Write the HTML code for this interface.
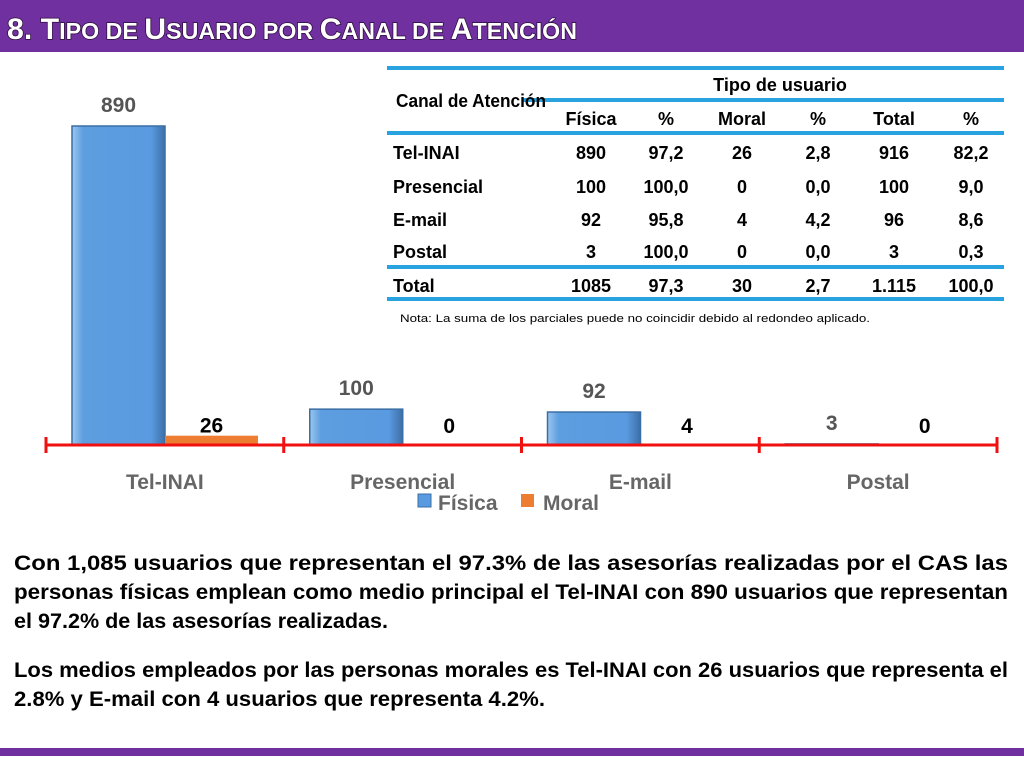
<!DOCTYPE html>
<html><head><meta charset="utf-8"><style>
body{margin:0;width:1024px;height:768px;overflow:hidden;background:#fff;font-family:"Liberation Sans",sans-serif;}
svg{position:absolute;left:0;top:0}
</style></head><body>
<svg id="s" width="1024" height="768" viewBox="0 0 1024 768">
<defs>
<linearGradient id="bg" x1="0" x2="1" y1="0" y2="0">
<stop offset="0" stop-color="#9cc6ee"/><stop offset="0.12" stop-color="#5c9ee0"/><stop offset="0.85" stop-color="#5a9ae0"/><stop offset="1" stop-color="#3d6fa8"/>
</linearGradient>
</defs>
<rect x="0" y="0" width="1024" height="52" fill="#7030a0"/>
<text x="7" y="39" font-family="Liberation Sans" font-weight="bold" fill="#fff" stroke="#2a0a3a" stroke-width="1.5" paint-order="stroke" font-size="30" textLength="570" lengthAdjust="spacingAndGlyphs">8. T<tspan font-size="23">IPO DE </tspan>U<tspan font-size="23">SUARIO POR </tspan>C<tspan font-size="23">ANAL DE </tspan>A<tspan font-size="23">TENCIÓN</tspan></text>
<rect x="0" y="748" width="1024" height="8" fill="#7030a0"/>
<g id="chart"></g>
<g id="tbl"></g>
<g font-family="Liberation Sans" font-weight="bold" font-size="21" fill="#000">
<text x="14" y="570" textLength="994" lengthAdjust="spacingAndGlyphs">Con 1,085 usuarios que representan el 97.3% de las asesorías realizadas por el CAS las</text>
<text x="14" y="599" textLength="994" lengthAdjust="spacingAndGlyphs">personas físicas emplean como medio principal el Tel-INAI con 890 usuarios que representan</text>
<text x="14" y="628" textLength="374" lengthAdjust="spacingAndGlyphs">el 97.2% de las asesorías realizadas.</text>
<text x="14" y="677" textLength="994" lengthAdjust="spacingAndGlyphs">Los medios empleados por las personas morales es Tel-INAI con 26 usuarios que representa el</text>
<text x="14" y="706" textLength="531" lengthAdjust="spacingAndGlyphs">2.8%  y E-mail con 4 usuarios que representa 4.2%.</text>
</g>
</svg>
<script>
const categories=["Tel-INAI","Presencial","E-mail","Postal"];
const fisica=[890,100,92,3];
const moral=[26,0,4,0];
const NS="http://www.w3.org/2000/svg";
function mk(p,t,a,txt){const e=document.createElementNS(NS,t);for(const k in a)e.setAttribute(k,a[k]);if(txt!==undefined)e.textContent=txt;p.appendChild(e);return e;}
const ch=document.getElementById('chart');
const x0=46,gw=237.75,base=445,k=319/890;
function y(v){return base-v*k;}
function gx(i){return x0+i*gw;}
categories.forEach((c,i)=>{
 const fx=gx(i)+26,w=93;
 const fh=fisica[i]*k;
 if(fh>0){
  const b=mk(ch,'rect',{x:fx,y:y(fisica[i]),width:w,height:fh,fill:'url(#bg)',stroke:'#3b6ea5','stroke-width':1.5});
  
  
 }
 const mh=moral[i]*k;
 if(mh>0){
  const m=mk(ch,'rect',{x:fx+w,y:y(moral[i]),width:w,height:mh,fill:'#ed7d31'});
  
  
 }
 const lf=mk(ch,'text',{x:fx+w/2,y:Math.min(y(fisica[i])-14,433),'text-anchor':'middle','font-weight':'bold','font-size':21,fill:'#555'},String(fisica[i]));
 
 
 const lm=mk(ch,'text',{x:fx+w*1.5,y:Math.min(y(moral[i])-3,433),'text-anchor':'middle','font-weight':'bold','font-size':21,fill:'#000'},String(moral[i]));
 
 
 const cl=mk(ch,'text',{x:gx(i)+gw/2,y:489,'text-anchor':'middle','font-weight':'bold','font-size':21,fill:'#666'},c);
 
 
});
const ax=mk(ch,'line',{x1:x0,x2:gx(4),y1:base,y2:base,stroke:'#f01010','stroke-width':3});


for(let i=0;i<=4;i++){const t=mk(ch,'line',{x1:gx(i),x2:gx(i),y1:base-8,y2:base+8,stroke:'#f01010','stroke-width':3});
 
 }
const lg=mk(ch,'g',{});


mk(lg,'rect',{x:418,y:494,width:13,height:13,fill:'#5a9ae0',stroke:'#3b6ea5'});
const l1=mk(lg,'text',{x:438,y:510,'font-weight':'bold','font-size':21,fill:'#666'},'Física');


mk(lg,'rect',{x:521,y:494,width:13,height:13,fill:'#ed7d31'});
const l2=mk(lg,'text',{x:543,y:510,'font-weight':'bold','font-size':21,fill:'#666'},'Moral');


const rows=[["Tel-INAI","890","97,2","26","2,8","916","82,2"],["Presencial","100","100,0","0","0,0","100","9,0"],["E-mail","92","95,8","4","4,2","96","8,6"],["Postal","3","100,0","0","0,0","3","0,3"],["Total","1085","97,3","30","2,7","1.115","100,0"]];
const rowY=[159,193,226,258,292];
const colX=[591,666,742,818,894,971];
const tb=document.getElementById('tbl');
const blue='#29a3e0';
[[387,68],[523,100],[387,133],[387,267],[387,299]].forEach(([x1,yy])=>{const l=mk(tb,'line',{x1:x1,x2:1004,y1:yy,y2:yy,stroke:blue,'stroke-width':4});
 
 });
function tt(x,yy,s,anchor,name,extra){const a={x:x,y:yy,'text-anchor':anchor,'font-weight':'bold','font-size':18,fill:'#000'};Object.assign(a,extra||{});const t=mk(tb,'text',a,s);
 
 return t;}
tt(396,107,'Canal de Atención','start','header-canal',{textLength:150,lengthAdjust:'spacingAndGlyphs'});
tt(780,91,'Tipo de usuario','middle','header-tipo');
['Física','%','Moral','%','Total','%'].forEach((h,i)=>tt(colX[i],125,h,'middle','header-col-'+i));
rows.forEach((r,ri)=>{r.forEach((v,ci)=>{
 if(ci===0)tt(393,rowY[ri],v,'start','row-label-'+ri);
 else tt(colX[ci-1],rowY[ri],v,'middle','cell-'+ri+'-'+ci);
});});
const n=mk(tb,'text',{x:400,y:322,'font-size':11,fill:'#000',textLength:470,lengthAdjust:'spacingAndGlyphs'},'Nota: La suma de los parciales puede no coincidir debido al redondeo aplicado.');


</script>
</body></html>
